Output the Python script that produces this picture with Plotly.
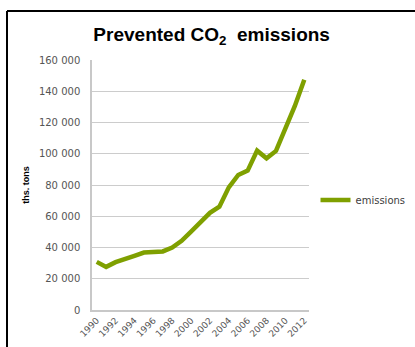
import plotly.graph_objects as go

years = list(range(1990, 2013))
emissions = [30800, 27600, 30600, 32400, 34700, 36800, 36800, 37500, 40000, 44300,
             50100, 55800, 62200, 66100, 78500, 86400, 89200, 102000, 97100, 101800,
             116300, 130600, 147300]
y_ticks = [0, 20000, 40000, 60000, 80000, 100000, 120000, 140000, 160000]
x_ticks = list(range(1990, 2013, 2))

fig = go.Figure()
fig.add_trace(go.Scatter(x=years, y=emissions, mode="lines", name="emissions",
                         line=dict(color="#7fa000", width=4.5)))

top_y = (310 - 11) / 250
left_x = -85 / 217
right_x = (415 - 92) / 217
bottom_y = -37 / 250

fig.update_layout(
    width=415, height=347,
    margin=dict(l=92, r=106, t=60, b=37, autoexpand=False),
    paper_bgcolor="white", plot_bgcolor="white",
    separators=". ",
    title=dict(text="<b>Prevented CO<sub>2</sub>  emissions</b>", x=0.51, xanchor="center",
               y=0.9, yanchor="middle", font=dict(family="Liberation Sans", size=19, color="black")),
    showlegend=True,
    legend=dict(x=1.03, y=0.44, xanchor="left", yanchor="middle",
                font=dict(family="DejaVu Sans", size=10, color="#404040"),
                bgcolor="rgba(0,0,0,0)"),
    xaxis=dict(range=[1989.5, 2012.5], tickvals=x_ticks, ticktext=[str(v) for v in x_ticks],
               tickangle=-45, showgrid=False, showline=True, linecolor="#c8c8c8", linewidth=1.5,
               ticks="", zeroline=False,
               tickfont=dict(family="DejaVu Sans", size=9, color="#555555")),
    yaxis=dict(range=[0, 160000], tickvals=y_ticks, tickformat=",d",
               showgrid=True, gridcolor="#cccccc", gridwidth=1.4,
               showline=True, linecolor="#c8c8c8", linewidth=1.5, zeroline=False,
               ticks="", ticklabelstandoff=8,
               tickfont=dict(family="DejaVu Sans", size=10, color="#555555"),
               title=dict(text="<b>ths. tons</b>", standoff=8,
                          font=dict(family="Liberation Sans", size=9, color="black"))),
    shapes=[
        dict(type="line", xref="paper", yref="paper", x0=left_x, x1=right_x, y0=top_y, y1=top_y,
             line=dict(color="black", width=2)),
        dict(type="line", xref="paper", yref="paper", x0=left_x, x1=left_x, y0=bottom_y, y1=top_y,
             line=dict(color="black", width=2)),
    ],
)

fig.write_html("out.html",
               post_script="document.documentElement.style.overflow='hidden';document.body.style.overflow='hidden';document.body.style.margin='0';")
